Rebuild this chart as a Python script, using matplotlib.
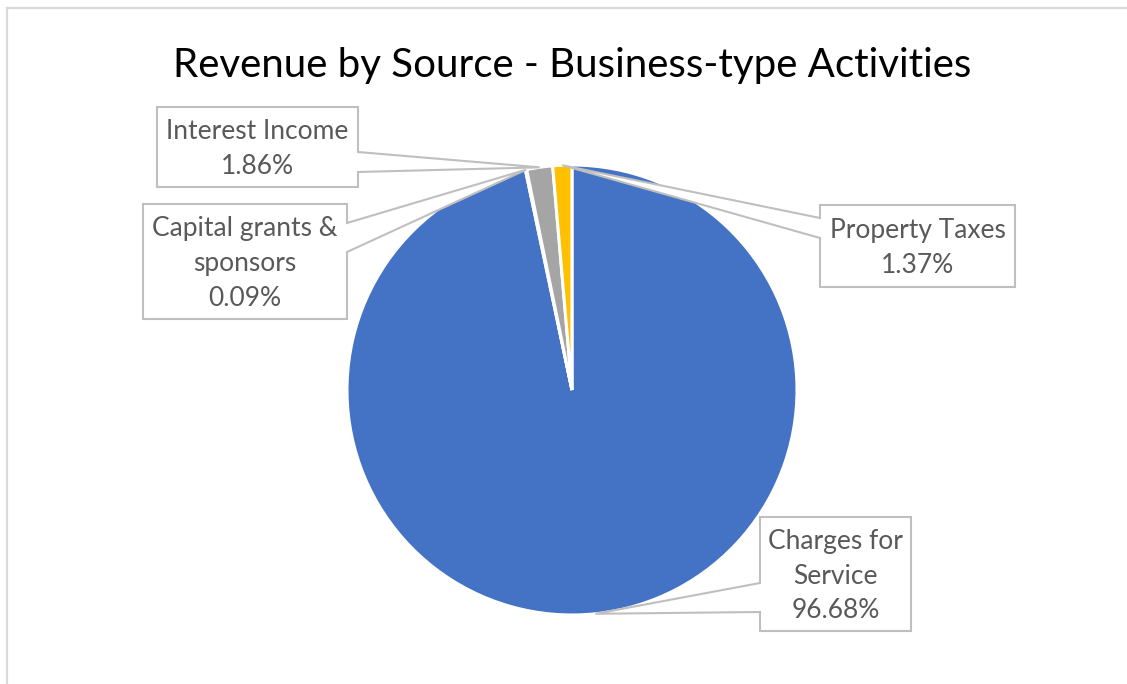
import numpy as np
import matplotlib.pyplot as plt
from matplotlib.patches import Polygon
from matplotlib.lines import Line2D

# Revenue shares by source (percent of total)
categories = ["Charges for Service", "Capital grants & sponsors",
              "Interest Income", "Property Taxes"]
label_lines = ["Charges for\nService", "Capital grants &\nsponsors",
               "Interest Income", "Property Taxes"]
shares = [96.68, 0.09, 1.86, 1.37]
colors = ["#4472C4", "#ED7D31", "#A5A5A5", "#FFC000"]

W, H = 1127, 684
CX, CY, R = 572, 390, 225          # pie centre and radius in pixels

fig = plt.figure(figsize=(W / 100, H / 100), dpi=100)
ax = fig.add_axes([0, 0, 1, 1])


def to_data(x, y):
    """Pixel position (from top-left) to data coordinates."""
    return ((x - CX) / R, (CY - y) / R)


ax.pie(shares, colors=colors, startangle=90, counterclock=False,
       radius=1, center=(0, 0),
       wedgeprops=dict(edgecolor="white", linewidth=2.2))
ax.set_aspect("auto")
ax.set_xlim(-CX / R, (W - CX) / R)
ax.set_ylim(-(H - CY) / R, CY / R)
ax.axis("off")

# Outer chart frame: only its top and left edges fall inside the canvas
fig.add_artist(Line2D([7 / W, 7 / W, 1.0], [0.0, 1 - 8 / H, 1 - 8 / H],
                      transform=fig.transFigure, color="#D9D9D9",
                      linewidth=1.6, solid_joinstyle="miter", zorder=0))

# Callout boxes: left, top, right, bottom, notch side, notch top, notch bottom
boxes = [
    (760, 517, 911, 631, "left", 583, 612),
    (143, 204, 347, 319, "right", 223, 252),
    (157, 107, 358, 187, "right", 152, 172),
    (820, 205, 1015, 287, "left", 218, 238),
]

total = sum(shares)
cum = np.concatenate([[0], np.cumsum(shares)[:-1]])
for name, val, c0, box in zip(label_lines, shares, cum, boxes):
    mid = np.deg2rad(90 - 360 * (c0 + val / 2) / total)
    anchor = (np.cos(mid), np.sin(mid))
    x0, y0, x1, y1, side, n0, n1 = box
    if side == "right":
        pts = [to_data(x0, y0), to_data(x1, y0), to_data(x1, n0), anchor,
               to_data(x1, n1), to_data(x1, y1), to_data(x0, y1)]
    else:
        pts = [to_data(x0, y0), to_data(x1, y0), to_data(x1, y1),
               to_data(x0, y1), to_data(x0, n1), anchor, to_data(x0, n0)]
    ax.add_patch(Polygon(pts, closed=True, facecolor="white",
                         edgecolor="#BFBFBF", linewidth=1.5, zorder=5))
    tx, ty = to_data((x0 + x1) / 2, (y0 + y1) / 2 + 2)
    ax.text(tx, ty, f"{name}\n{val:.2f}%", ha="center", va="center",
            fontsize=19, family="Lato", color="#595959",
            linespacing=1.5, zorder=6)

# Title
tx, ty = to_data(572, 77)
ax.text(tx, ty, "Revenue by Source - Business-type Activities",
        ha="center", va="baseline", fontsize=29, family="Lato",
        color="#000000")

fig.savefig("out.png", dpi=100)
